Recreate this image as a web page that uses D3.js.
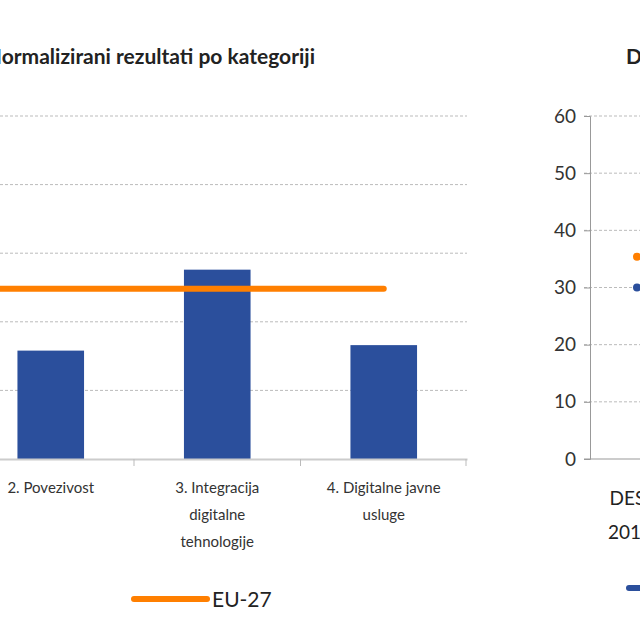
<!DOCTYPE html>
<html><head><meta charset="utf-8">
<script src="https://d3js.org/d3.v7.min.js"></script>
<style>body{margin:0;background:#fff}text{font-family:Lato,"Open Sans",sans-serif}</style>
</head><body><svg id="c" width="640" height="640"></svg>
<script>
const categories=["1. Ljudski kapital","2. Povezivost","3. Integracija|digitalne|tehnologije","4. Digitalne javne|usluge"];
const countryValues=[10.5,7.9,13.8,8.3];
const euValue=[12.4];
const leftTicks=[0,5,10,15,20,25];
const rightCategories=["DESI|2017"];
const rightOrange=[35.4];
const rightBlue=[30];
const rightTicks=[0,10,20,30,40,50,60];

const svg=d3.select("#c");
const y=d3.scaleLinear().domain([0,25]).range([459,116]);
const x=d3.scaleBand().domain(categories).range([-199,467]).paddingInner(0.6).paddingOuter(0.3);
const xb=d3.scaleBand().domain(categories).range([-199,467]);

svg.append("text").attr("x",315).attr("y",64).attr("text-anchor","end").attr("font-weight","bold").attr("font-size",21).attr("fill","#222").text("Normalizirani rezultati po kategoriji");

svg.selectAll(".g").data(leftTicks.slice(1)).enter().append("line")
 .attr("x1",0).attr("x2",467).attr("y1",d=>y(d)).attr("y2",d=>y(d))
 .attr("stroke","#bbb").attr("stroke-dasharray","3,2");
svg.selectAll(".b").data(countryValues).enter().append("rect")
 .attr("x",(d,i)=>x(categories[i])).attr("width",x.bandwidth())
 .attr("y",d=>y(d)).attr("height",d=>y(0)-y(d)).attr("fill","#2b4f9c");
const xa=svg.append("g").attr("transform","translate(0,459)")
 .call(d3.axisBottom(xb).tickSize(0).tickFormat(""));
xa.select(".domain").attr("stroke","#ccc").attr("stroke-width",2);
[1,2,3].forEach(i=>svg.append("line").attr("x1",-199+166.5*i).attr("x2",-199+166.5*i).attr("y1",459).attr("y2",466).attr("stroke","#bbb"));
svg.append("line").attr("x1",-199+166.5*4-1).attr("x2",-199+166.5*4-1).attr("y1",459).attr("y2",466).attr("stroke","#bbb");
categories.forEach(c=>{
 const t=svg.append("text").attr("x",xb(c)+xb.bandwidth()/2).attr("y",493).attr("text-anchor","middle").attr("font-size",15).attr("fill","#333");
 c.split("|").forEach((s,k)=>t.append("tspan").attr("x",xb(c)+xb.bandwidth()/2).attr("dy",k?27:0).text(s));
});
const eu=xb.bandwidth()/2;
svg.append("line").attr("x1",xb(categories[0])+eu).attr("x2",xb(categories[3])+eu)
 .attr("y1",y(euValue[0])).attr("y2",y(euValue[0])).attr("stroke","#ff7f00").attr("stroke-width",6).attr("stroke-linecap","round");
svg.append("line").attr("x1",134).attr("x2",207).attr("y1",599).attr("y2",599).attr("stroke","#ff7f00").attr("stroke-width",6).attr("stroke-linecap","round");
svg.append("text").attr("x",212).attr("y",607).attr("font-size",21).attr("fill","#222").text("EU-27");

// right panel
const y2=d3.scaleLinear().domain([0,60]).range([459,116]);
const x2=d3.scaleBand().domain(rightCategories).range([590,690]);
svg.append("text").attr("x",626).attr("y",64).attr("font-weight","bold").attr("font-size",21).attr("fill","#222").text("DESI");
svg.selectAll(".g2").data(rightTicks.slice(1)).enter().append("line")
 .attr("x1",584).attr("x2",640).attr("y1",d=>y2(d)).attr("y2",d=>y2(d))
 .attr("stroke","#bbb").attr("stroke-dasharray","3,2");
const ya=svg.append("g").attr("transform","translate(590,0)")
 .call(d3.axisLeft(y2).tickValues(rightTicks).tickSize(6).tickPadding(8));
ya.select(".domain").attr("stroke","#999");
ya.selectAll("line").attr("stroke","#999");
ya.selectAll("text").attr("font-size",19).attr("fill","#333").attr("font-family","Lato,sans-serif");
svg.append("line").attr("x1",584).attr("x2",640).attr("y1",459).attr("y2",459).attr("stroke","#999");
rightCategories.forEach(c=>{
 const t=svg.append("text").attr("x",x2(c)+x2.bandwidth()/2-10).attr("y",505).attr("text-anchor","middle").attr("font-size",19).attr("fill","#222");
 c.split("|").forEach((s,k)=>t.append("tspan").attr("x",x2(c)+x2.bandwidth()/2-10).attr("dy",k?34:0).text(s));
});
svg.selectAll(".o").data(rightOrange).enter().append("circle").attr("cx",637).attr("cy",d=>y2(d)).attr("r",4).attr("fill","#ff7f00");
svg.selectAll(".bl").data(rightBlue).enter().append("circle").attr("cx",637).attr("cy",d=>y2(d)).attr("r",4).attr("fill","#2b4f9c");
svg.append("line").attr("x1",629).attr("x2",660).attr("y1",588).attr("y2",588).attr("stroke","#2b4f9c").attr("stroke-width",6).attr("stroke-linecap","round");
</script></body></html>
